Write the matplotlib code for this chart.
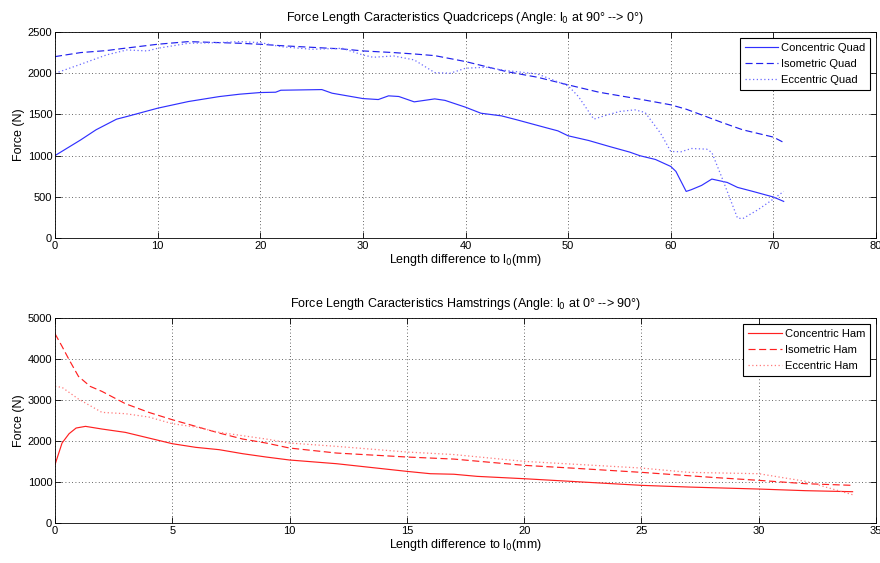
import matplotlib
matplotlib.use("Agg")
import matplotlib.pyplot as plt

plt.rcParams['font.family'] = ['Liberation Sans', 'DejaVu Sans']
plt.rcParams['font.size'] = 8

# ---- Quadriceps data ----
quad_con_x = [0, 2.5, 4, 6, 7, 10, 13, 16, 18, 20, 21.5, 22, 26, 27, 30, 31.5, 32.5, 33.5, 35, 37, 38, 40,
              41.5, 43.5, 45, 48, 49, 50, 52, 54, 56, 57, 58.5, 60, 60.5, 61.5, 62, 63, 64, 65.5, 66.5, 68, 70, 71]
quad_con_y = [1000, 1190, 1313, 1442, 1474, 1575, 1656, 1716, 1745, 1765, 1769, 1793, 1801, 1757, 1692, 1680,
              1725, 1717, 1652, 1688, 1670, 1587, 1514, 1482, 1434, 1333, 1300, 1240, 1183, 1111, 1042, 998,
              953, 868, 808, 565, 586, 638, 715, 674, 614, 565, 497, 444]

quad_iso_x = [0, 2.5, 5, 6.5, 10, 13, 15, 18, 20, 22, 25, 28, 30, 33, 35, 37, 40, 44, 47, 50, 53, 57, 60,
              61.5, 63, 65, 67, 70, 71]
quad_iso_y = [2201, 2250, 2274, 2298, 2351, 2383, 2375, 2363, 2351, 2334, 2314, 2294, 2270, 2250, 2233, 2213,
              2141, 2019, 1951, 1858, 1769, 1684, 1616, 1563, 1494, 1401, 1313, 1224, 1159]

quad_ecc_x = [0, 2.5, 5, 7, 9, 10, 13, 16, 18, 20, 22, 25, 28, 30, 31, 33, 35, 37, 38.5, 40, 42, 44, 47,
              50, 51, 52.5, 53.5, 55, 56.5, 57.5, 59, 60, 61, 62, 63.5, 64, 65, 66.5, 67, 68.5, 70, 71]
quad_ecc_y = [1998, 2108, 2221, 2282, 2270, 2302, 2363, 2371, 2383, 2371, 2322, 2290, 2302, 2221, 2193, 2209,
              2161, 2007, 1999, 2060, 2072, 2031, 1991, 1846, 1717, 1442, 1482, 1535, 1555, 1523, 1272, 1050,
              1046, 1086, 1078, 1038, 727, 242, 234, 343, 473, 565]

# ---- Hamstrings data ----
ham_con_x = [0, 0.3, 0.6, 0.9, 1.3, 2, 3, 4, 5, 6, 7, 8, 9, 10, 12, 15, 16, 17, 18, 20, 22, 25, 27, 30, 32, 34]
ham_con_y = [1423, 1951, 2179, 2317, 2358, 2293, 2211, 2073, 1935, 1846, 1789, 1691, 1610, 1537, 1447, 1260,
             1203, 1190, 1138, 1081, 1016, 919, 878, 829, 789, 764]

ham_iso_x = [0, 0.3, 0.6, 1, 1.5, 2, 3, 4, 5, 6, 7, 8, 9, 10, 12, 15, 17, 20, 22, 25, 28, 30, 32, 34]
ham_iso_y = [4618, 4309, 3984, 3577, 3333, 3211, 2911, 2699, 2520, 2358, 2195, 2049, 1951, 1829, 1707, 1610,
             1560, 1407, 1341, 1236, 1114, 1041, 959, 919]

ham_ecc_x = [0, 0.3, 1, 2, 3, 4, 5, 6, 7, 9, 10, 12, 15, 17, 20, 25, 27, 30, 32, 34]
ham_ecc_y = [3333, 3309, 3024, 2699, 2667, 2585, 2423, 2341, 2211, 2049, 1951, 1870, 1732, 1670, 1504, 1341,
             1236, 1203, 1016, 691]

quad_labels = ['Concentric Quad', 'Isometric Quad', 'Eccentric Quad']
ham_labels = ['Concentric Ham', 'Isometric Ham', 'Eccentric Ham']

fig = plt.figure(figsize=(8.8, 5.63), dpi=100)
ax1 = fig.add_axes([0.0625, 0.5773, 0.933, 0.3659])
ax2 = fig.add_axes([0.0625, 0.0710, 0.933, 0.3641])


def style(ax, xmax, xstep, ymax, ystep):
    ax.set_xlim(0, xmax)
    ax.set_ylim(0, ymax)
    ax.set_xticks(range(0, xmax + 1, xstep))
    ax.set_yticks(range(0, ymax + 1, ystep))
    ax.tick_params(direction='in', top=True, right=True, length=4, width=0.6, labelsize=8, pad=2)
    ax.grid(True, color='black', linestyle=(0, (1, 3)), linewidth=0.6, alpha=0.8)
    for s in ax.spines.values():
        s.set_linewidth(0.6)
    ax.set_ylabel('Force (N)', fontsize=9, labelpad=2)
    ax.set_xlabel(r'Length difference to l$_0$(mm)', fontsize=9, labelpad=1)


def legend(ax):
    leg = ax.legend(loc='upper right', fancybox=False, edgecolor='black', fontsize=8,
                    borderpad=0.45, labelspacing=0.55, handlelength=3.0, handletextpad=0.3,
                    borderaxespad=0.5, framealpha=1)
    leg.get_frame().set_linewidth(0.8)


ax1.plot(quad_con_x, quad_con_y, color='#3030ff', lw=0.85, label=quad_labels[0])
ax1.plot(quad_iso_x, quad_iso_y, color='#2020ee', lw=0.85, dashes=(6, 3), label=quad_labels[1])
ax1.plot(quad_ecc_x, quad_ecc_y, color='#6a6aff', lw=0.9, linestyle=(0, (1, 2)), label=quad_labels[2])
style(ax1, 80, 10, 2500, 500)
ax1.set_title(r'Force Length Caracteristics Quadcriceps (Angle: l$_0$ at 90° --> 0°)', fontsize=9, pad=8)
legend(ax1)

ax2.plot(ham_con_x, ham_con_y, color='#ff2020', lw=0.85, label=ham_labels[0])
ax2.plot(ham_iso_x, ham_iso_y, color='#ff2020', lw=0.85, dashes=(6, 3), label=ham_labels[1])
ax2.plot(ham_ecc_x, ham_ecc_y, color='#ff7a7a', lw=0.9, linestyle=(0, (1, 2)), label=ham_labels[2])
style(ax2, 35, 5, 5000, 1000)
ax2.set_title(r'Force Length Caracteristics Hamstrings (Angle: l$_0$ at 0° --> 90°)', fontsize=9, pad=8)
legend(ax2)

fig.savefig('out.png', dpi=100)
